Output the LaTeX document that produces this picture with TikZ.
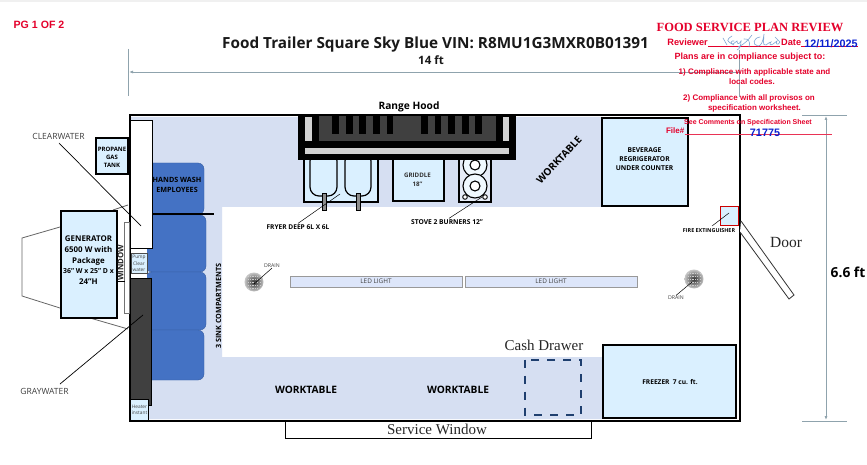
\documentclass[tikz,border=0pt]{standalone}
\usepackage{fontspec}
\setmainfont{Open Sans}
\newfontfamily\rsans{Liberation Sans}
\newfontfamily\rserif{Liberation Serif}
\usetikzlibrary{arrows.meta}
\definecolor{floorblue}{HTML}{D6DFF2}
\definecolor{boxblue}{HTML}{DAF0FF}
\definecolor{sinkblue}{HTML}{4472C4}
\definecolor{dimgrayblue}{HTML}{8FA3AD}
\definecolor{tankgray}{HTML}{404040}
\definecolor{redtxt}{HTML}{E4002B}
\definecolor{bluetxt}{HTML}{0A1FD0}
\definecolor{ledblue}{HTML}{DDE6FA}
\definecolor{dashnavy}{HTML}{1F3F6F}
\definecolor{sigblue}{HTML}{7FA6D2}
\tikzset{
  x=1pt,y=-1pt,
  equip/.style={draw=black,line width=1.4pt,fill=boxblue},
  lbl/.style={font=\bfseries\fontsize{#1}{#1}\selectfont,text=black,inner sep=0,align=center},
  lbl/.default=6,
  reg/.style={font=\fontsize{#1}{#1}\selectfont,text=black!75,inner sep=0,align=center},
  ser/.style={font=\rserif\fontsize{#1}{#1}\selectfont,text=black!85,inner sep=0,align=center},
  rsb/.style={font=\rsans\bfseries\fontsize{#1}{#1}\selectfont,text=redtxt,inner sep=0,align=center},
  bsb/.style={font=\rsans\bfseries\fontsize{#1}{#1}\selectfont,text=bluetxt,inner sep=0,align=center},
  leader/.style={draw=black,line width=0.5pt},
  dimline/.style={draw=dimgrayblue,line width=0.9pt},
  dimarrow/.style={dimline,-{Latex[length=4pt,width=3pt]}},
  sinkblk/.style={fill=sinkblue,draw=sinkblue!80!black,line width=0.3pt,rounded corners=6pt},
  ledbox/.style={draw=black!40,line width=0.8pt,fill=ledblue},
  hitch/.style={draw=black!60,line width=0.8pt},
}
\begin{document}
\begin{tikzpicture}
\useasboundingbox (0,0) rectangle (867,465);
\fill[white] (0,0) rectangle (867,465);
\fill[black!6] (0,0) rectangle (867,2);

% hitch
\draw[hitch] (128,205) -- (113,210);
\draw[hitch] (60,227) -- (22,238) -- (22,296) -- (60,308);
\draw[hitch] (90,318) -- (128,329);

% floor
\fill[floorblue] (131,117) -- (602,117) -- (602,207) -- (222,207) -- (222,357) -- (602,357) -- (602,419) -- (131,419) -- cycle;

% sink blocks
\draw[sinkblk] (140,163) -- (204,163) -- (204,214.5) -- (140,214.5) -- cycle;
\draw[sinkblk] (146,215) -- (206,215) -- (206,272) -- (146,272) -- cycle;
\draw[sinkblk] (146,272) -- (206,272) -- (206,330) -- (146,330) -- cycle;
\draw[sinkblk] (140,330) -- (204,330) -- (204,380) -- (140,380) -- cycle;
\draw[black,line width=1.4pt] (151,214) -- (214,214);

% water tanks
\fill[white] (131,248) rectangle (147,278);
\draw[black,line width=1pt,fill=white] (130,121) rectangle (152,248);
\draw[black,line width=1pt,fill=tankgray] (130,278) rectangle (151.5,405);
\node[draw=black!70,line width=0.5pt,fill=boxblue,minimum width=16pt,minimum height=20pt,inner sep=0,font=\fontsize{4.8}{6.2}\selectfont,text=black!75,align=center] (pump) at (139,263.5) {Pump\\Clear\\water};
\node[draw=black,line width=0.5pt,fill=boxblue,minimum width=18pt,minimum height=21pt,inner sep=0,font=\fontsize{4.8}{6.2}\selectfont,text=black!75,align=center] (heater) at (139.5,409.5) {Heater\\instant};

% trailer outline
\draw[black,line width=2pt] (130,115) rectangle (739.5,421);

% service window
\draw[black,line width=1pt,fill=white] (285,421) rectangle (591,438);
\node[ser=15] (svc) at (437,429.5) {Service Window};

% propane
\node[equip,minimum width=32pt,minimum height=36pt,inner sep=0] (propane) at (112,156) {};
\node[lbl=6] (proptxt) at (112,157) {PROPANE\\[2pt]GAS\\[2pt]TANK};

% window
\draw[black!55,line width=0.8pt,fill=white] (124.5,222) rectangle (129,313);
\draw[black,line width=0.6pt] (117,281) -- (124.5,281);
% generator
\node[equip,minimum width=56pt,minimum height=107pt,inner sep=0] (gen) at (89,264.5) {};
\node[font=\bfseries\fontsize{7.9}{10.8}\selectfont,inner sep=0,align=center] (gentxt) at (88.5,260) {GENERATOR\\6500 W with\\Package\\[-0.5pt]{\fontsize{6.9}{10}\selectfont 36" W x 25" D x}\\24"H};
\node[font=\fontsize{7.8}{7.8}\selectfont\bfseries,text=black!85,rotate=90,inner sep=0] (wintxt) at (120.5,263) {WINDOW};

% hand wash
\node[lbl=7.2] (handw) at (177,185) {HANDS WASH\\[2.5pt]EMPLOYEES};
\node[lbl=7.2,rotate=90] (sink3) at (218.5,306) {3 SINK COMPARTMENTS};

% fryer
\draw[equip,line width=1.2pt] (304,150) rectangle (378,202);
\draw[black,line width=1.2pt,fill=boxblue,rounded corners=9pt] (310,152) rectangle (337,196);
\draw[black,line width=1.2pt,fill=boxblue,rounded corners=9pt] (345,152) rectangle (371,196);
\draw[black,line width=0.5pt,fill=black!45] (322,193) rectangle (326,210);
\draw[black,line width=0.5pt,fill=black!45] (356,193) rectangle (360,210);

% griddle
\node[equip,line width=1.2pt,minimum width=51pt,minimum height=51pt,inner sep=0] (griddle) at (418.5,175.5) {};
\node[lbl=6.2,text=black!80] (gridtxt) at (417.5,179.5) {GRIDDLE\\[3pt]18"};

% stove
\draw[equip,line width=1.2pt,fill=floorblue!60!white] (459,150) rectangle (491,202);
\coordinate (ring1) at (475,165);
\coordinate (ring2) at (475,186);
\foreach \c in {ring1,ring2}{
  \draw[black,line width=1.1pt,fill=boxblue!40!white] (\c) circle (12);
  \draw[black,line width=1.1pt,fill=white] (\c) circle (5);
}
\draw[black,line width=0.9pt,fill=white] (465,197) circle (2.3);
\draw[black,line width=0.9pt,fill=white] (485,197) circle (2.3);

% range hood
\fill[black] (298,115) rectangle (516,160);
\fill[black!18] (305,148) rectangle (509,154);
\fill[black!18] (305,117) rectangle (312,141);
\fill[black!18] (503,117) rectangle (509,141);
\fill[tankgray] (319,116) rectangle (496,141);
\foreach \a in {332,346,359,373,386.5,421,434.5,448,462,475}{
  \fill[black] (\a,116) rectangle +(6.7,18);
}
\node[font=\bfseries\fontsize{10.2}{10}\selectfont,inner sep=0] (hoodtxt) at (409,106.5) {Range Hood};

% beverage
\node[equip,minimum width=86pt,minimum height=88pt,inner sep=0] (bev) at (645,162) {};
\node[lbl=6.7] (bevtxt) at (644.5,159) {BEVERAGE\\[2.5pt]REGRIGERATOR\\[2.5pt]UNDER COUNTER};

% freezer
\node[equip,minimum width=133pt,minimum height=73pt,inner sep=0] (frz) at (669.5,381.5) {};
\node[lbl=6.6] (frztxt) at (670,382) {FREEZER\ \ 7 cu. ft.};

% fire extinguisher
\node[draw=red!80!black,line width=0.9pt,fill=boxblue,minimum width=18pt,minimum height=19pt,inner sep=0] (fire) at (729,215.5) {};
\node[lbl=5.4] (firetxt) at (709,231) {FIRE EXTINGUISHER};
\coordinate (fireA) at (729,213);
\coordinate (fireB) at (712,226);
\draw[leader] (fireA) -- (fireB);

% door
\draw[black!80,line width=0.8pt,fill=white] (741,221) -- (794,295) -- (789,299) -- (740,232);
\node[ser=15.5] (door) at (786,242.5) {Door};

% dims
\draw[dimline] (128,49) -- (128,96);
\draw[dimline] (739.5,50) -- (739.5,97);
\coordinate (hdimL) at (129,72);
\coordinate (hdimR) at (739,72);
\draw[dimarrow] (hdimR) -- (hdimL);
\draw[dimline] (802,115.5) -- (847,115.5);
\draw[dimline] (802,421) -- (847,421);
\coordinate (vdimT) at (826,116);
\coordinate (vdimB) at (826,420);
\draw[dimarrow,{Latex[length=4pt,width=3pt]}-{Latex[length=4pt,width=3pt]}] (vdimT) -- (vdimB);
\node[font=\bfseries\fontsize{13.8}{14}\selectfont,inner sep=0,fill=white,inner xsep=1pt,inner ysep=3pt] (h66) at (848,272) {6.6 ft};
\node[font=\fontsize{11.5}{12}\selectfont\bfseries,inner sep=0,text=black!90] (w14) at (431,60) {14 ft};
\node[font=\bfseries\fontsize{15.3}{15}\selectfont,inner sep=0,text=black!90] (title) at (435.5,44.5) {Food Trailer Square Sky Blue VIN: R8MU1G3MXR0B01391};

% leaders & labels
\node[reg=8.5] (clear) at (58.5,136) {CLEARWATER};
\coordinate (clearEnd) at (141,226);
\draw[leader,line width=0.7pt] (59,143) -- (clearEnd);
\node[reg=8.5] (gray) at (44.5,391.5) {GRAYWATER};
\coordinate (grayEnd) at (143,315);
\draw[leader,line width=0.7pt] (60,384) -- (grayEnd);

\node[lbl=6.6] (fryer) at (298,227) {FRYER DEEP 6L X 6L};
\coordinate (fryA) at (340,194);
\draw[leader] (fryer.north) ++(0,-1) -- (fryA);
\node[lbl=6.7] (stove) at (447,222) {STOVE 2 BURNERS 12"};
\coordinate (stoveA) at (482,197);
\draw[leader] (stove.north) ++(2,-1) -- (stoveA);
\node[inner sep=0,rotate=47,font=\bfseries\fontsize{10}{10}\selectfont] (wt1) at (559,160) {WORKTABLE};
\node[lbl=10.2] (wt2) at (306,390) {WORKTABLE};
\node[lbl=10.2] (wt3) at (458,390) {WORKTABLE};
\node[ser=15] (cash) at (544,345) {Cash Drawer};
\draw[dashnavy,line width=2pt,dash pattern=on 8pt off 8pt] (525,359.5) rectangle (581,414.5);

% drains
\foreach \n/\cx/\cy in {dl/254/282,dr/694/279}{
  \shade[inner color=black!80,outer color=black!22] (\cx,\cy) circle (9.5);
  \foreach \i in {-6,-3,...,6}{
    \draw[white!80!black,line width=0.5pt,dash pattern=on 1.2pt off 1.2pt] (\cx-6.5,\cy+\i) -- (\cx+6.5,\cy+\i);
  }
  \coordinate (\n) at (\cx,\cy);
}
\node[reg=5.2] (dltxt) at (272,266) {DRAIN};
\node[reg=5.2] (drtxt) at (676,297.5) {DRAIN};
\draw[leader] (dl) ++(0,2) -- (dltxt.south);
\draw[leader] (dr) ++(-2,3) -- (drtxt.north);

% LED
\node[ledbox,minimum width=172pt,minimum height=11pt,inner sep=0,font=\fontsize{6.4}{6.4}\selectfont,text=black!75] (led1) at (376,281.5) {LED LIGHT};
\node[ledbox,minimum width=172pt,minimum height=11pt,inner sep=0,font=\fontsize{6.4}{6.4}\selectfont,text=black!75] (led2) at (551,281.5) {LED LIGHT};

% page label
\node[rsb=10.6] (pg) at (39,25) {PG 1 OF 2};

% review stamp
\node[font=\rserif\bfseries\fontsize{12.5}{13}\selectfont,text=redtxt,inner sep=0] (stamp) at (750,27) {FOOD SERVICE PLAN REVIEW};
\node[rsb=9.2,anchor=east] (rev) at (708,42) {Reviewer};
\node[rsb=9.2,anchor=west] (datelbl) at (781,42) {Date};
\coordinate (revL) at (708,46.5);
\coordinate (revR) at (780,46.5);
\draw[redtxt,line width=0.8pt] (revL) -- (revR);
\coordinate (dateL) at (801,46.5);
\coordinate (dateR) at (858,46.5);
\draw[redtxt,line width=0.8pt] (dateL) -- (dateR);
\node[bsb=10.8] (date) at (831,43.5) {12/11/2025};
\node[rsb=9] (p1) at (750,57) {Plans are in compliance subject to:};
\node[rsb=8] (p2) at (754.5,72.5) {1) Compliance with applicable state and};
\node[rsb=8] (p3) at (752,82) {local codes.};
\node[rsb=8] (p4) at (749,98.5) {2) Compliance with all provisos on};
\node[rsb=8] (p5) at (754.5,108) {specification worksheet.};
\node[rsb=7] (p6) at (748,123) {See Comments on Specification Sheet};
\node[rsb=8,anchor=east] (filelbl) at (684.5,131) {File\#};
\coordinate (fileL) at (684.5,134.5);
\coordinate (fileR) at (832,134.5);
\draw[redtxt!80,line width=0.9pt] (fileL) -- (fileR);
\node[bsb=10.8] (fileno) at (765,132.5) {71775};
% signature
\draw[sigblue,line width=0.6pt,line cap=round] (723,38) -- (727,45) (732,36) .. controls (726,40) and (726,41) .. (734,45)
 (734,41) .. controls (731,40) and (730,44) .. (733,44) .. controls (735,44) and (735,41) .. (737,41) .. controls (737,44) and (739,45) .. (741,41) .. controls (741,45) and (740,49) .. (737,50)
 (752,35) .. controls (748,40) and (745,44) .. (738,47) (744,39) .. controls (748,38) and (751,42) .. (749,47)
 (760,37) .. controls (753,38) and (752,45) .. (758,46) .. controls (761,46) and (763,42) .. (764,34) .. controls (764,40) and (762,46) .. (766,45) .. controls (768,44) and (769,42) .. (771,42) .. controls (769,44) and (770,46) .. (773,44) .. controls (775,43) and (775,42) .. (777,41) .. controls (775,44) and (778,46) .. (780,42) (780,42) -- (775,37);
\end{tikzpicture}
\end{document}
